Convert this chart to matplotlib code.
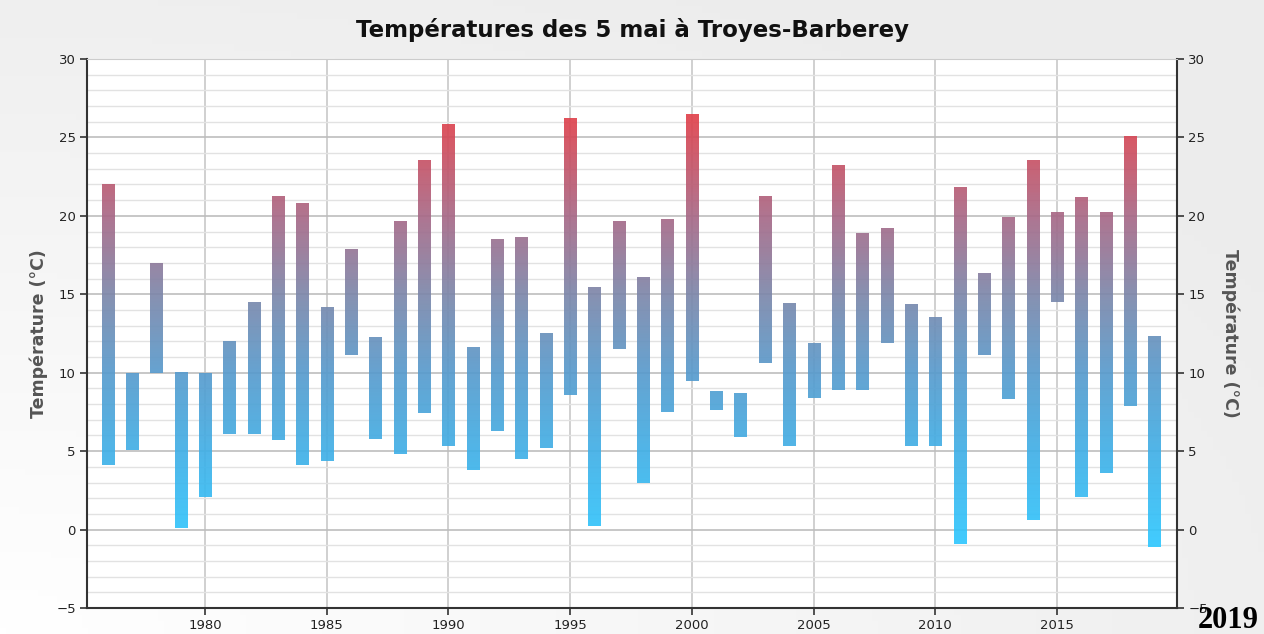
import numpy as np
import matplotlib
matplotlib.use("Agg")
import matplotlib.pyplot as plt
from matplotlib.colors import LinearSegmentedColormap, Normalize

# donnees : temperatures min / max du 5 mai
years = list(range(1976, 2020))
t_min = [4.1, 5.1, 10.0, 0.1, 2.1, 6.1, 6.1, 5.7, 4.1, 4.4,
         11.1, 5.8, 4.8, 7.4, 5.3, 3.8, 6.3, 4.5, 5.2, 8.6,
         0.2, 11.5, 3.0, 7.5, 9.5, 7.6, 5.9, 10.6, 5.3, 8.4,
         8.9, 8.9, 11.9, 5.3, 5.3, -0.9, 11.1, 8.3, 0.6, 14.5,
         2.1, 3.6, 7.9, -1.1]
t_max = [22.0, 10.0, 17.0, 10.0, 10.0, 12.0, 14.5, 21.2, 20.8, 14.2,
         17.8, 12.3, 19.6, 23.5, 25.8, 11.6, 18.5, 18.6, 12.5, 26.2,
         15.4, 19.6, 16.1, 19.8, 26.5, 8.8, 8.7, 21.2, 14.4, 11.9,
         23.2, 18.9, 19.2, 14.3, 13.5, 21.8, 16.3, 19.9, 23.5, 20.2,
         21.2, 20.2, 25.1, 12.3]
x_ticks = [1980, 1985, 1990, 1995, 2000, 2005, 2010, 2015]
y_ticks = [-5, 0, 5, 10, 15, 20, 25, 30]

title = "Températures des 5 mai à Troyes-Barberey"
ylabel = "Température (°C)"

# degrade bleu -> rouge selon la temperature
vmin, vmax = -1.1, 26.5
stops = [(-1.1, (48, 200, 255)), (5, (65, 175, 230)), (10, (88, 155, 205)),
         (15, (125, 135, 170)), (20, (168, 105, 135)), (26.5, (225, 65, 75))]
cmap = LinearSegmentedColormap.from_list(
    "temp", [((v - vmin) / (vmax - vmin), tuple(c / 255 for c in rgb)) for v, rgb in stops])
norm = Normalize(vmin, vmax)

fig = plt.figure(figsize=(12.64, 6.34), dpi=100)

# fond gris clair legerement degrade
bg = fig.add_axes([0, 0, 1, 1], zorder=-10)
gx, gy = np.meshgrid(np.linspace(0, 1, 200), np.linspace(0, 1, 100))
grad = np.clip(np.hypot(gx, 1 - gy) / 1.2, 0, 1)
bg.imshow(grad, cmap=LinearSegmentedColormap.from_list("bg", ["#ffffff", "#ececec"]),
          aspect="auto", extent=(0, 1, 0, 1), origin="upper")
bg.axis("off")

ax = fig.add_axes([0.0688, 0.041, 0.8624, 0.866])
ax.set_facecolor("white")

w = 0.5
for yr, lo, hi in zip(years, t_min, t_max):
    g = np.linspace(lo, hi, 200).reshape(-1, 1)
    ax.imshow(g, cmap=cmap, norm=norm, origin="lower", aspect="auto",
              extent=(yr - w / 2, yr + w / 2, lo, hi), alpha=0.92, zorder=3,
              interpolation="bilinear")

ax.set_xlim(1975.15, 2019.93)
ax.set_ylim(-5, 30)

ax.set_yticks(y_ticks)
ax.set_yticks(np.arange(-5, 31, 1), minor=True)
ax.set_xticks(x_ticks)
ax.grid(which="minor", axis="y", color="#e2e2e2", lw=1.0, zorder=0)
ax.grid(which="major", axis="y", color="#bdbdbd", lw=1.2, zorder=1)
ax.grid(which="major", axis="x", color="#c8c8c8", lw=1.2, zorder=1)
ax.set_axisbelow(True)

ax.tick_params(axis="y", which="minor", length=0)
ax.tick_params(axis="both", which="major", direction="out", length=5, width=1.2,
               color="#333333", labelsize=9.5, labelcolor="#222222")
ax.tick_params(axis="x", pad=3)
ax.tick_params(axis="y", left=True, right=True, labelleft=True, labelright=True, pad=3)

for s in ["left", "right", "bottom"]:
    ax.spines[s].set_color("#333333")
    ax.spines[s].set_linewidth(1.5)
ax.spines["top"].set_color("#cccccc")

ax.set_ylabel(ylabel, fontsize=12.5, fontweight="bold", color="#555555", labelpad=6)
ax2 = ax.secondary_yaxis("right")
ax2.set_yticks([])
ax2.spines["right"].set_visible(False)
ax2.set_ylabel(ylabel, fontsize=12.5, fontweight="bold", color="#555555",
               rotation=-90, labelpad=45)

fig.text(0.5, 0.953, title, ha="center", va="center", fontsize=16.5, fontweight="bold",
         color="#111111")
fig.text(0.9955, -0.002, "2019", ha="right", va="bottom", fontsize=22, fontweight="bold",
         family="Liberation Serif", color="black")

fig.savefig("out.png", dpi=100)
